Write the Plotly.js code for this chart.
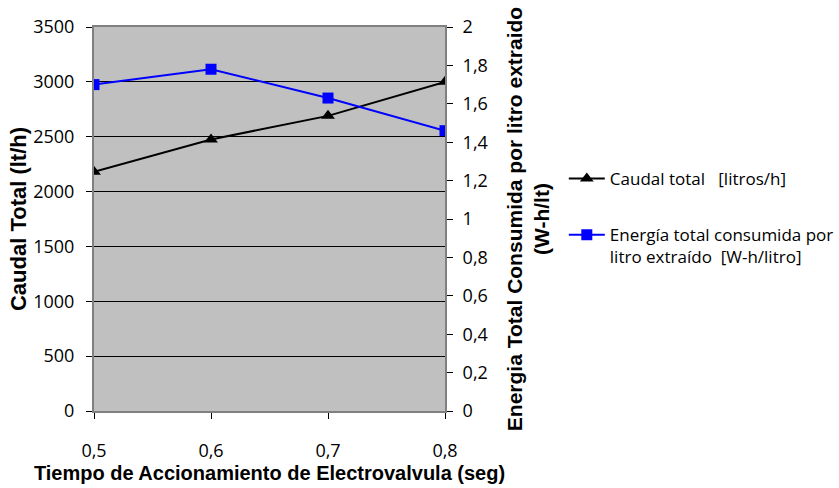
<!DOCTYPE html>
<html>
<head>
<meta charset="utf-8">
<script src="https://cdn.plot.ly/plotly-3.0.1.min.js"></script>
<style>html,body{margin:0;padding:0;background:#fff;}#chart{width:839px;height:488px;}</style>
</head>
<body>
<div id="chart"></div>
<script>
const tiempo = [0.5, 0.6, 0.7, 0.8];
const caudalTotal = [2180, 2475, 2690, 3000];
const energiaPorLitro = [1.70, 1.78, 1.63, 1.46];
const nombreCaudal = 'Caudal total   [litros/h]';
const nombreEnergia = 'Energía total consumida por<br>litro extraído  [W-h/litro]';
const tituloX = 'Tiempo de Accionamiento de Electrovalvula (seg)';
const tituloY = 'Caudal Total (lt/h)';
const tituloY2 = 'Energia Total Consumida por litro extraido<br>(W-h/lt)';

const tickFont = {family: 'Open Sans, sans-serif', size: 18, color: '#000'};
const titleFontX = {family: 'Liberation Sans, Arial, sans-serif', size: 20, color: '#000', weight: 'bold'};
const titleFontY = {family: 'Liberation Sans, Arial, sans-serif', size: 22, color: '#000', weight: 'bold'};
const titleFontY2 = {family: 'Liberation Sans, Arial, sans-serif', size: 21, color: '#000', weight: 'bold'};

const traces = [
  {x: tiempo, y: caudalTotal, name: nombreCaudal, type: 'scatter', mode: 'lines+markers',
   line: {color: '#000000', width: 2}, marker: {symbol: 'triangle-up', size: 12, color: '#000000'},
   legendgroup: 'a', yaxis: 'y'},
  {x: tiempo, y: energiaPorLitro, name: nombreEnergia, type: 'scatter', mode: 'lines+markers',
   line: {color: '#0000FF', width: 2}, marker: {symbol: 'square', size: 11, color: '#0000FF'},
   legendgroup: 'b', yaxis: 'y2'}
];

const layout = {
  width: 839, height: 488,
  margin: {l: 94, r: 394, t: 27, b: 77},
  paper_bgcolor: '#ffffff',
  plot_bgcolor: '#C0C0C0',
  separators: ',.',
  showlegend: true,
  xaxis: {
    range: [0.5, 0.8], dtick: 0.1, tick0: 0.5, tickformat: '.1f',
    automargin: false,
    showgrid: false, zeroline: false,
    showline: true, linecolor: '#808080', linewidth: 2, mirror: true,
    ticks: 'outside', ticklen: 6, tickcolor: '#000', tickwidth: 1,
    tickfont: tickFont, ticklabelstandoff: 16,
    title: {text: tituloX, font: titleFontX, standoff: 0}
  },
  yaxis: {
    range: [0, 3500], dtick: 500, tick0: 0,
    automargin: false,
    showgrid: true, gridcolor: '#000000', gridwidth: 1, zeroline: false,
    showline: true, linecolor: '#808080', linewidth: 2,
    ticks: 'outside', ticklen: 6, tickcolor: '#000', tickwidth: 1,
    tickfont: tickFont, ticklabelstandoff: 8,
    title: {text: tituloY, font: titleFontY}
  },
  yaxis2: {
    range: [0, 2], dtick: 0.2, tick0: 0,
    automargin: false,
    overlaying: 'y', side: 'right',
    showgrid: false, zeroline: false,
    showline: true, linecolor: '#808080', linewidth: 2,
    ticks: 'outside', ticklen: 6, tickcolor: '#000', tickwidth: 1,
    tickfont: tickFont, ticklabelstandoff: 6,
    title: {text: tituloY2, font: titleFontY2, standoff: 20}
  },
  legend: {
    xref: 'container', yref: 'container',
    x: 0.672, y: 0.670, xanchor: 'left', yanchor: 'top',
    bgcolor: 'rgba(0,0,0,0)', borderwidth: 0,
    font: {family: 'Open Sans, sans-serif', size: 17, color: '#000'},
    tracegroupgap: 31, valign: 'top', itemwidth: 36
  }
};

Plotly.newPlot('chart', traces, layout, {displayModeBar: false, staticPlot: true});
</script>
</body>
</html>
